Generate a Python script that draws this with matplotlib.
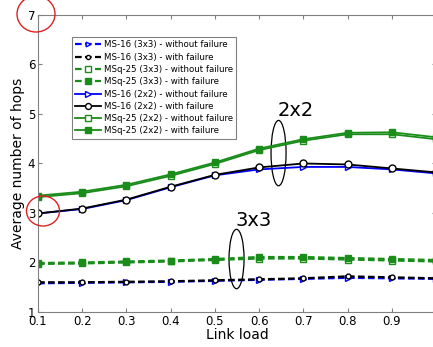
import matplotlib
matplotlib.use('Agg')
import matplotlib.pyplot as plt
from matplotlib.patches import Ellipse

# data
load = [0.1, 0.2, 0.3, 0.4, 0.5, 0.6, 0.7, 0.8, 0.9, 1.0]

ms16_3x3_nofail = [1.58, 1.59, 1.60, 1.61, 1.63, 1.65, 1.67, 1.69, 1.68, 1.67]
ms16_3x3_fail = [1.60, 1.60, 1.61, 1.62, 1.64, 1.66, 1.68, 1.72, 1.70, 1.68]
msq25_3x3_nofail = [1.97, 1.98, 2.00, 2.02, 2.05, 2.08, 2.08, 2.06, 2.04, 2.02]
msq25_3x3_fail = [1.99, 2.00, 2.02, 2.04, 2.07, 2.11, 2.11, 2.09, 2.07, 2.05]

ms16_2x2_nofail = [2.99, 3.08, 3.26, 3.52, 3.76, 3.88, 3.93, 3.93, 3.88, 3.80]
ms16_2x2_fail = [2.99, 3.09, 3.27, 3.53, 3.77, 3.92, 4.00, 3.98, 3.90, 3.82]
msq25_2x2_nofail = [3.32, 3.40, 3.54, 3.75, 3.99, 4.27, 4.46, 4.59, 4.59, 4.49]
msq25_2x2_fail = [3.35, 3.43, 3.57, 3.78, 4.02, 4.30, 4.49, 4.62, 4.63, 4.53]

labels = ['MS-16 (3x3) - without failure', 'MS-16 (3x3) - with failure',
          'MSq-25 (3x3) - without failure', 'MSq-25 (3x3) - with failure',
          'MS-16 (2x2) - without failure', 'MS-16 (2x2) - with failure',
          'MSq-25 (2x2) - without failure', 'MSq-25 (2x2) - with failure']

blue = '#0000ff'
green = '#1a8c1a'
dash = (3, 1.5)

fig = plt.figure(figsize=(4.33, 3.47), dpi=100)
ax = fig.add_axes([0.0878, 0.1009, 0.919, 0.856])

ax.plot(load, ms16_3x3_nofail, '--', dashes=dash, color=blue, marker='>', ms=4, mfc='white', mec=blue, lw=1.6, label=labels[0])
ax.plot(load, ms16_3x3_fail, '--', dashes=dash, color='black', marker='o', ms=3.5, mfc='white', mec='black', lw=1.6, label=labels[1])
ax.plot(load, msq25_3x3_nofail, '--', dashes=dash, color=green, marker='s', ms=5, mfc='white', mec=green, lw=1.6, label=labels[2])
ax.plot(load, msq25_3x3_fail, '--', dashes=dash, color=green, marker='s', ms=5, mfc=green, mec=green, lw=1.6, label=labels[3])
ax.plot(load, ms16_2x2_nofail, '-', color=blue, marker='>', ms=5, mfc='white', mec=blue, lw=1.3, label=labels[4])
ax.plot(load, ms16_2x2_fail, '-', color='black', marker='o', ms=5, mfc='white', mec='black', lw=1.3, label=labels[5])
ax.plot(load, msq25_2x2_nofail, '-', color=green, marker='s', ms=5, mfc='white', mec=green, lw=1.3, label=labels[6])
ax.plot(load, msq25_2x2_fail, '-', color=green, marker='s', ms=5, mfc=green, mec=green, lw=1.3, label=labels[7])

ax.set_xlim(0.1, 1.0)
ax.set_ylim(1, 7)
ax.set_xticks([0.1, 0.2, 0.3, 0.4, 0.5, 0.6, 0.7, 0.8, 0.9])
ax.set_xticklabels(['0.1', '0.2', '0.3', '0.4', '0.5', '0.6', '0.7', '0.8', '0.9'])
ax.set_yticks([1, 2, 3, 4, 5, 6, 7])
ax.tick_params(direction='in', top=True, right=True, labelsize=8.5, length=3,
               color='#808080', pad=2)
for s in ax.spines.values():
    s.set_color('#808080')
    s.set_linewidth(0.8)
ax.set_xlabel('Link load', fontsize=10, labelpad=0)
ax.set_ylabel('Average number of hops', fontsize=10, labelpad=2)

leg = ax.legend(loc='upper left', bbox_to_anchor=(72 / 433, 1 - 37 / 347),
                bbox_transform=fig.transFigure, fontsize=6.2, handlelength=3,
                labelspacing=0.38, borderaxespad=0, fancybox=False,
                framealpha=1, borderpad=0.4, handletextpad=0.3,
                markerscale=0.85)
leg.get_frame().set_edgecolor('#808080')
leg.get_frame().set_linewidth(0.8)

# annotation ellipses and group labels
ax.add_patch(Ellipse((0.644, 4.21), 0.034, 1.32, fill=False, ec='black', lw=0.9))
ax.text(0.641, 5.07, '2x2', fontsize=14, va='center', ha='left')
ax.add_patch(Ellipse((0.549, 2.07), 0.034, 1.2, fill=False, ec='black', lw=0.9))
ax.text(0.546, 2.84, '3x3', fontsize=14, va='center', ha='left')

# red circles drawn over the figure
fig.patches.append(Ellipse((36 / 433, 1 - 14 / 347), 38 / 433, 36 / 347,
                           transform=fig.transFigure, fill=False, ec='#dd2222', lw=1))
fig.patches.append(Ellipse((43 / 433, 1 - 211 / 347), 33 / 433, 30 / 347,
                           transform=fig.transFigure, fill=False, ec='#dd2222', lw=1))

fig.savefig('out.png', dpi=100)
